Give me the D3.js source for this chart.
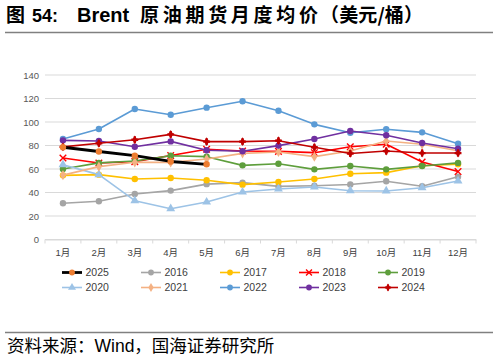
<!DOCTYPE html>
<html><head><meta charset="utf-8">
<script src="https://cdn.jsdelivr.net/npm/d3@7/dist/d3.min.js"></script>
<style>
html,body{margin:0;padding:0;background:#fff;}
svg{display:block;}
</style></head>
<body>
<svg id="c" width="498" height="360"></svg>
<script>
const months = ["1月","2月","3月","4月","5月","6月","7月","8月","9月","10月","11月","12月"];
const yTicks = [0,20,40,60,80,100,120,140];
const years = ["2025","2016","2017","2018","2019","2020","2021","2022","2023","2024"];
const v2025 = [78.5,74.9,71.3,66.4,64.0];
const v2016 = [30.8,32.5,38.7,41.6,47.1,48.4,45.2,45.8,46.8,49.6,45.3,53.4];
const v2017 = [54.6,55.2,51.5,52.3,50.4,46.7,48.9,51.5,56.0,56.9,62.8,64.0];
const v2018 = [69.4,65.1,66.3,71.5,76.8,75.3,75.0,73.9,79.0,81.0,66.0,57.8];
const v2019 = [60.0,65.2,66.8,71.3,70.5,63.1,64.5,59.7,62.6,59.7,62.6,65.2];
const v2020 = [63.7,55.2,33.0,26.2,31.9,40.4,43.0,44.7,41.5,41.3,44.1,49.8];
const v2021 = [54.8,62.0,65.7,65.6,68.5,73.3,74.5,70.5,75.3,83.8,81.0,75.6];
const v2022 = [85.5,94.0,111.1,106.2,112.2,117.6,109.6,98.0,90.9,93.8,91.2,81.5];
const v2023 = [84.4,83.8,79.0,83.5,75.9,75.1,79.9,85.5,92.3,88.7,82.1,77.3];
const v2024 = [78.8,81.9,84.9,89.5,83.3,83.3,84.1,78.5,73.2,75.3,73.6,73.6];

const seriesValues = [v2025,v2016,v2017,v2018,v2019,v2020,v2021,v2022,v2023,v2024];
const lineColors = ["#000000","#A5A5A5","#FFC000","#FF0000","#5E9E3C","#9DC3E6","#F4B183","#5B9BD5","#7030A0","#C00000"];
const markColors = ["#ED7D31","#A5A5A5","#FFC000","#FF0000","#5E9E3C","#9DC3E6","#F4B183","#5B9BD5","#7030A0","#C00000"];
const markShapes = ["circle","circle","circle","x","circle","triangle","diamond","circle","circle","plus"];

const svg = d3.select("#c");
const latin = "'Liberation Sans', Arial, 'Noto Sans CJK SC', sans-serif";
const cjk = "'Liberation Sans', 'Noto Sans CJK SC', sans-serif";
const cjkOnly = "'Noto Sans CJK SC', sans-serif";

// title pieces: [text, x, font, size, textLength]
const titleParts = [
  ["图", 6, cjkOnly, 19, null],
  ["54:", 32, "'Liberation Sans', Arial, sans-serif", 18, null],
  ["Brent", 77, "'Liberation Sans', Arial, sans-serif", 20, null],
  ["原油期货月度均价", 140, cjkOnly, 19, 178],
  ["（美元/桶）", 320, cjkOnly, 19, 103]
];
titleParts.forEach(([t,tx,f,s,tl])=>{
  const el = svg.append("text").attr("x",tx).attr("y",22)
    .attr("font-family",f).attr("font-size",s).attr("font-weight","bold").attr("fill","#000")
    .text(t);
  if(tl) el.attr("textLength",tl).attr("lengthAdjust","spacing");
});
svg.append("line").attr("x1",5).attr("x2",493).attr("y1",32.5).attr("y2",32.5)
  .attr("stroke","#808080").attr("stroke-width",1.5);
// footer
svg.append("line").attr("x1",5).attr("x2",493).attr("y1",332.5).attr("y2",332.5)
  .attr("stroke","#808080").attr("stroke-width",1.5);
svg.append("text").attr("x",7).attr("y",352)
  .attr("font-family",cjk).attr("font-size",17.5).attr("fill","#000")
  .text("资料来源：Wind，国海证券研究所");

const x = d3.scaleBand().domain(months).range([45,476]).padding(0);
const y = d3.scaleLinear().domain([0,140]).range([239.5,75]);
const cx = m => x(m) + x.bandwidth()/2;

// grid
svg.append("g").selectAll("line").data(yTicks).join("line")
  .attr("x1",45).attr("x2",476).attr("y1",d=>y(d)).attr("y2",d=>y(d))
  .attr("stroke","#D9D9D9").attr("stroke-width",1);

// y axis labels
const yAxis = d3.axisLeft(y).tickValues(yTicks).tickSize(0).tickPadding(6);
const gy = svg.append("g").attr("transform","translate(45,0)").call(yAxis);
gy.select(".domain").remove();
gy.selectAll("text").attr("font-family",latin).attr("font-size",9.5).attr("fill","#595959");

// x axis
const xAxis = d3.axisBottom(x).tickSize(0).tickPadding(10);
const gx = svg.append("g").attr("transform",`translate(0,${y(0)})`).call(xAxis);
gx.select(".domain").attr("stroke","#D9D9D9");
gx.selectAll("text").attr("font-family",cjk).attr("font-size",9.5).attr("fill","#404040");
// category boundary ticks
svg.append("g").selectAll("line").data(months.concat(["end"])).join("line")
  .attr("x1",(d,i)=> i<12 ? x(d) : 476).attr("x2",(d,i)=> i<12 ? x(d) : 476)
  .attr("y1",y(0)).attr("y2",y(0)+4).attr("stroke","#D9D9D9");

function drawMarker(g, shape, px, py, color, scale=1){
  if(shape==="circle"){
    g.append("circle").attr("cx",px).attr("cy",py).attr("r",3.2*scale).attr("fill",color);
  } else if(shape==="triangle"){
    g.append("path").attr("d",d3.symbol(d3.symbolTriangle,34*scale*scale)()).attr("transform",`translate(${px},${py})`).attr("fill",color);
  } else if(shape==="diamond"){
    g.append("path").attr("d",d3.symbol(d3.symbolDiamond,30*scale*scale)()).attr("transform",`translate(${px},${py})`).attr("fill",color);
  } else if(shape==="x"){
    g.append("path").attr("d",d3.symbol(d3.symbolX,30*scale*scale)()).attr("transform",`translate(${px},${py})`).attr("fill","none").attr("stroke",color).attr("stroke-width",1.4);
  } else if(shape==="plus"){
    g.append("path").attr("d",d3.symbol(d3.symbolDiamond,22*scale*scale)()).attr("transform",`translate(${px},${py})`).attr("fill",color);
    g.append("path").attr("d",d3.symbol(d3.symbolCross,26*scale*scale)()).attr("transform",`translate(${px},${py})`).attr("fill",color);
  }
}

const line = d3.line().x((d,i)=>cx(months[i])).y(d=>y(d));
const order = [1,2,3,4,5,6,7,8,9,0];
const plot = svg.append("g");
order.forEach(k=>{
  const vals = seriesValues[k];
  const g = plot.append("g");
  g.append("path").datum(vals).attr("d",line).attr("fill","none")
    .attr("stroke",lineColors[k]).attr("stroke-width",k===0?2.8:1.6).attr("stroke-linejoin","round");
  vals.forEach((v,i)=>drawMarker(g, markShapes[k], cx(months[i]), y(v), markColors[k]));
});

// legend
const legend = svg.append("g");
years.forEach((yr,k)=>{
  const col = k%5, row = Math.floor(k/5);
  const lx = 62 + col*79, ly = 272.5 + row*15;
  legend.append("line").attr("x1",lx).attr("x2",lx+20).attr("y1",ly).attr("y2",ly)
    .attr("stroke",lineColors[k]).attr("stroke-width",k===0?2.8:1.6);
  drawMarker(legend, markShapes[k], lx+10, ly, markColors[k], 0.9);
  legend.append("text").attr("x",lx+23.5).attr("y",ly+3.8)
    .attr("font-family",latin).attr("font-size",10.5).attr("fill","#404040").text(yr);
});
</script>
</body></html>
